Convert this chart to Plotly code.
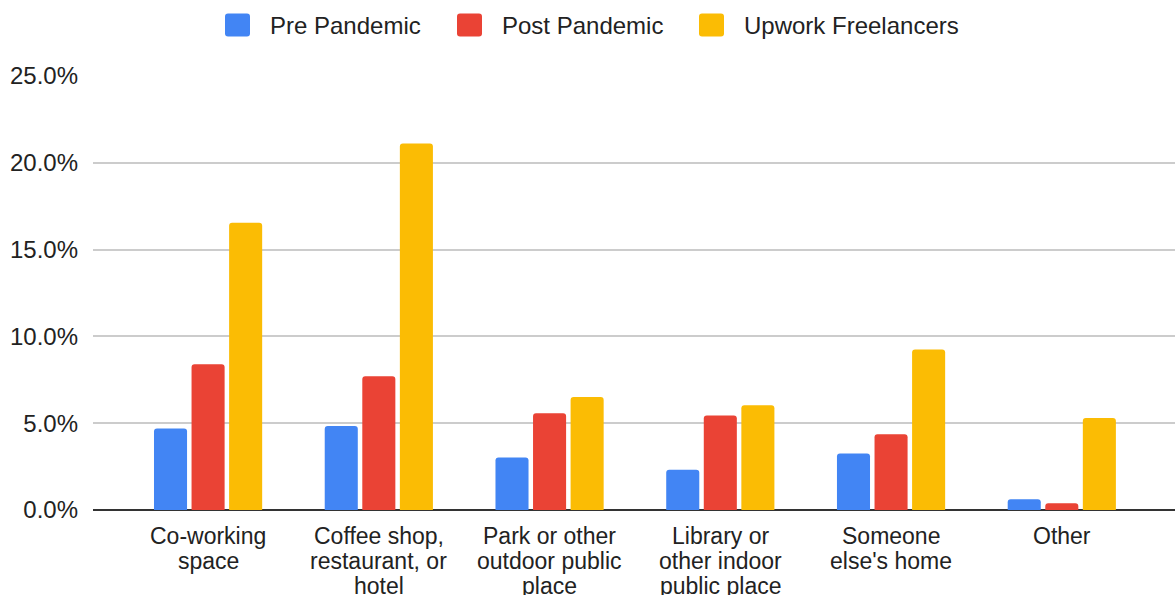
import plotly.graph_objects as go

# Workplace categories (each label wraps onto several lines)
categories = [
    ["Co-working", "space"],
    ["Coffee shop,", "restaurant, or", "hotel"],
    ["Park or other", "outdoor public", "place"],
    ["Library or", "other indoor", "public place"],
    ["Someone", "else's home"],
    ["Other"],
]

# Share of respondents (%)
pre_pandemic = [4.70, 4.84, 3.03, 2.32, 3.26, 0.62]
post_pandemic = [8.40, 7.70, 5.57, 5.45, 4.36, 0.39]
upwork_freelancers = [16.54, 21.11, 6.51, 6.03, 9.25, 5.30]

y_ticks = [0, 5, 10, 15, 20, 25]
y_tick_labels = ["0.0%", "5.0%", "10.0%", "15.0%", "20.0%", "25.0%"]

series = [
    ("Pre Pandemic", pre_pandemic, "#4285F4"),
    ("Post Pandemic", post_pandemic, "#EA4335"),
    ("Upwork Freelancers", upwork_freelancers, "#FBBC04"),
]

FONT = "Liberation Sans, Arial, sans-serif"
TEXT_COLOR = "#222222"

W, H = 1175, 595
M_L, M_R, M_T, M_B = 93, 0, 76, 85
PLOT_W = W - M_L - M_R
PLOT_H = H - M_T - M_B


def paper_x(px):
    return (px - M_L) / PLOT_W


def paper_y(py):
    return (H - M_B - py) / PLOT_H


x_pos = list(range(len(categories)))

fig = go.Figure()
for name, values, color in series:
    fig.add_trace(go.Bar(
        x=x_pos,
        y=values,
        name=name,
        marker=dict(color=color, line=dict(width=0), cornerradius=3),
        showlegend=False,
    ))

annotations = []
shapes = []

# Category labels, one annotation per wrapped line (tight line spacing)
line_step = 25
first_line_center = 536
for i, lines in enumerate(categories):
    for j, line in enumerate(lines):
        annotations.append(dict(
            x=i, xref="x",
            y=paper_y(first_line_center + j * line_step), yref="paper",
            text=line, showarrow=False,
            xanchor="center", yanchor="middle",
            font=dict(family=FONT, size=23, color=TEXT_COLOR),
        ))

# Legend row across the top: rounded colour swatch followed by the series name
legend_swatch_x = [237.5, 469.5, 711.5]
legend_text_x = [268, 500, 742]
legend_y = 25
sw, sh, r = 12.5, 11.5, 3
swatch_path = (
    f"M {-sw + r},{-sh} L {sw - r},{-sh} Q {sw},{-sh} {sw},{-sh + r} "
    f"L {sw},{sh - r} Q {sw},{sh} {sw - r},{sh} L {-sw + r},{sh} "
    f"Q {-sw},{sh} {-sw},{sh - r} L {-sw},{-sh + r} Q {-sw},{-sh} {-sw + r},{-sh} Z"
)
for (name, _, color), sx, tx in zip(series, legend_swatch_x, legend_text_x):
    shapes.append(dict(
        type="path", path=swatch_path,
        xref="paper", yref="paper",
        xsizemode="pixel", ysizemode="pixel",
        xanchor=paper_x(sx), yanchor=paper_y(legend_y),
        fillcolor=color, line=dict(width=0),
    ))
    annotations.append(dict(
        x=paper_x(tx), xref="paper",
        y=paper_y(legend_y), yref="paper",
        text=name, showarrow=False,
        xanchor="left", yanchor="middle",
        font=dict(family=FONT, size=24, color=TEXT_COLOR),
    ))

fig.update_layout(
    width=W,
    height=H,
    margin=dict(l=M_L, r=M_R, t=M_T, b=M_B),
    paper_bgcolor="white",
    plot_bgcolor="white",
    barmode="group",
    bargap=0.34,
    bargroupgap=0.12,
    font=dict(family=FONT, size=23, color=TEXT_COLOR),
    showlegend=False,
    annotations=annotations,
    shapes=shapes,
    xaxis=dict(
        range=[-0.674, 5.663],
        showgrid=False,
        showline=False,
        zeroline=False,
        ticks="",
        showticklabels=False,
        fixedrange=True,
    ),
    yaxis=dict(
        range=[0, 25],
        tickmode="array",
        tickvals=y_ticks,
        ticktext=y_tick_labels,
        showgrid=True,
        gridcolor="#cccccc",
        gridwidth=1.5,
        zeroline=True,
        zerolinecolor="#333333",
        zerolinewidth=2,
        ticks="",
        ticklabelstandoff=14,
        tickfont=dict(family=FONT, size=24, color=TEXT_COLOR),
        fixedrange=True,
    ),
)

fig.write_html("out.html")
